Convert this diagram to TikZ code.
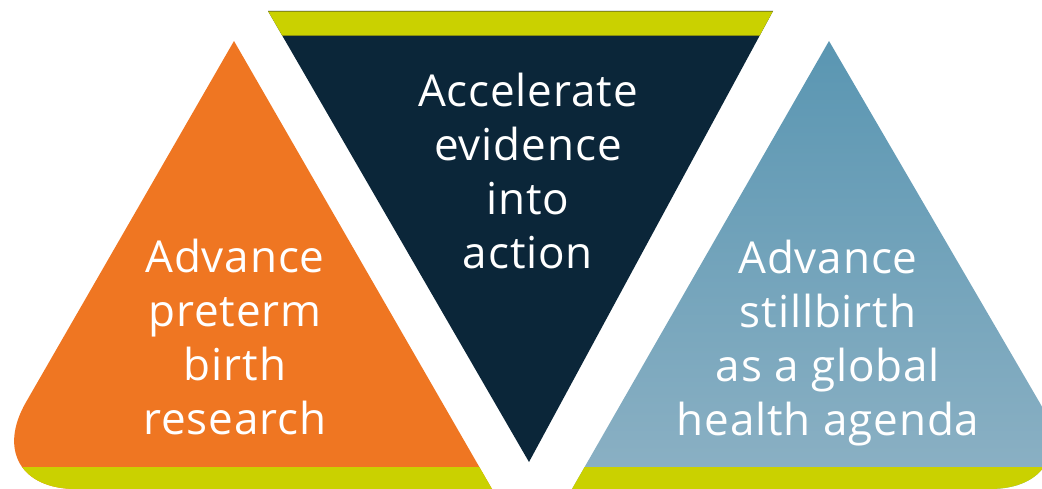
\documentclass[tikz,border=0pt]{standalone}
\usepackage{fontspec}
\newfontfamily\labelfont[LetterSpace=2]{Open Sans}
\definecolor{pborange}{HTML}{EF7622}
\definecolor{pbnavy}{HTML}{0B2639}
\definecolor{pblime}{HTML}{CAD100}
\definecolor{pbolive}{HTML}{8A8E10}
\definecolor{pbbluetop}{HTML}{5A96B2}
\definecolor{pbbluebot}{HTML}{8CB1C4}

\begin{document}
\begin{tikzpicture}[x=1pt,y=-1pt,
    main node/.style={align=center,text=white,font=\labelfont\fontsize{44}{54}\selectfont},
    band/.style={fill=pblime}]

            \useasboundingbox (0,0) rectangle (1042,489);

            % left triangle
            \fill[pborange] (234,41) -- (492,489) [rounded corners=100pt] -- (-24,489) [sharp corners] -- cycle;
            \begin{scope}
                \clip (234,41) -- (492,489) [rounded corners=100pt] -- (-24,489) [sharp corners] -- cycle;
                \fill[band] (-30,467) rectangle (500,495);
            \end{scope}

            % middle triangle
            \fill[pbnavy] (268,11) -- (773,11) -- (529,462) -- cycle;
            \begin{scope}
                \clip (268,11) -- (773,11) -- (529,462) -- cycle;
                \fill[band] (260,11) rectangle (780,36);
                \draw[pbolive,line width=1pt] (260,36) -- (780,36);
            \end{scope}
            \draw[pbolive,line width=0.8pt] (268,11) -- (773,11);

            % right triangle
            \shade[top color=pbbluetop,bottom color=pbbluebot] (829,41) -- (572,489) [rounded corners=100pt] -- (1090,489) [sharp corners] -- cycle;
            \begin{scope}
                \clip (829,41) -- (572,489) [rounded corners=100pt] -- (1090,489) [sharp corners] -- cycle;
                \fill[band] (560,467) rectangle (1095,495);
            \end{scope}

            \node[main node] (1) at (235,337) {Advance\\preterm\\birth\\research};
            \node[main node] (2) at (528,171) {Accelerate\\evidence\\into\\action};
            \node[main node] (3) at (828,343) {Advance\\stillbirth\\as a global\\health agenda};
        \end{tikzpicture}
\end{document}
